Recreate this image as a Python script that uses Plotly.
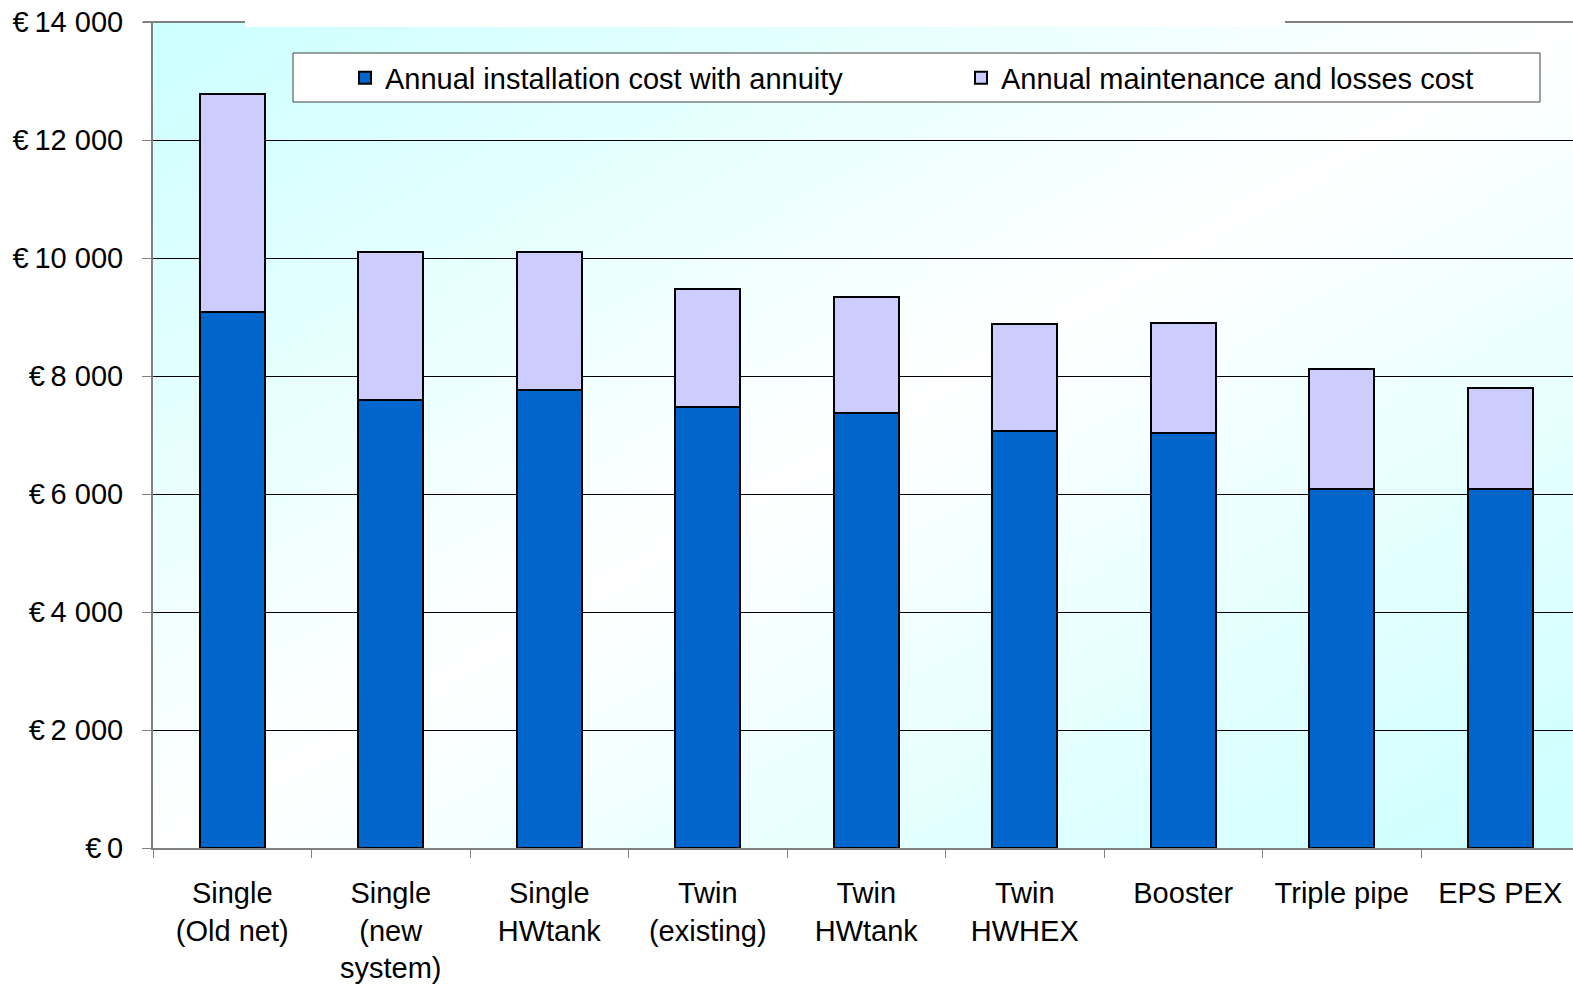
import base64
import plotly.graph_objects as go

categories = ["Single<br>(Old net)", "Single<br>(new<br>system)", "Single<br>HWtank",
              "Twin<br>(existing)", "Twin<br>HWtank", "Twin<br>HWHEX", "Booster",
              "Triple pipe", "EPS PEX"]
installation = [9080, 7590, 7760, 7480, 7370, 7070, 7040, 6090, 6090]
maintenance = [3700, 2510, 2340, 2000, 1970, 1810, 1850, 2030, 1710]
tick_vals = [0, 2000, 4000, 6000, 8000, 10000, 12000, 14000]
tick_text = ["€\u20090", "€\u20092 000", "€\u20094 000", "€\u20096 000", "€\u20098 000",
             "€\u200910 000", "€\u200912 000", "€\u200914 000"]

FONT = "Arial, Liberation Sans, sans-serif"
FS = 29
W, H = 1573, 984
ML, MR, MT, MB = 153, 0, 22, 136
PW = W - ML - MR
PH = H - MT - MB
CAT_W = 158.5


def px_x(p):
    return (p - ML) / PW


def px_y(p):
    return (H - MB - p) / PH


fig = go.Figure()
fig.add_trace(go.Bar(x=categories, y=installation, name="Annual installation cost with annuity",
                     marker=dict(color="#0066CC", line=dict(color="#000000", width=2)),
                     width=0.41))
fig.add_trace(go.Bar(x=categories, y=maintenance, name="Annual maintenance and losses cost",
                     marker=dict(color="#CCCCFF", line=dict(color="#000000", width=2)),
                     width=0.41))

svg = ('<svg xmlns="http://www.w3.org/2000/svg" width="100" height="100" viewBox="0 0 100 100" '
       'preserveAspectRatio="none"><defs><linearGradient id="g" x1="0" y1="0" x2="1" y2="1">'
       '<stop offset="0" stop-color="#CCFFFF"/><stop offset="0.5" stop-color="#FFFFFF"/>'
       '<stop offset="1" stop-color="#CCFFFF"/></linearGradient></defs>'
       '<rect width="100" height="100" fill="url(#g)"/></svg>')
src = "data:image/svg+xml;base64," + base64.b64encode(svg.encode()).decode()

fig.update_layout(
    width=W, height=H,
    margin=dict(l=ML, r=MR, t=MT, b=MB, pad=0, autoexpand=False),
    barmode="stack",
    paper_bgcolor="white",
    plot_bgcolor="rgba(0,0,0,0)",
    font=dict(family=FONT, size=FS, color="black"),
    showlegend=True,
    legend=dict(orientation="h", x=px_x(345), xanchor="left", y=px_y(78), yanchor="middle",
                bgcolor="rgba(0,0,0,0)", borderwidth=0, entrywidth=571, entrywidthmode="pixels",
                font=dict(family=FONT, size=FS, color="black"), traceorder="normal"),
    images=[dict(source=src, xref="paper", yref="paper", x=0, y=1, sizex=1, sizey=1,
                 sizing="stretch", layer="below", xanchor="left", yanchor="top")],
    shapes=[
        dict(type="line", xref="paper", yref="paper", x0=px_x(143), x1=1.0,
             y0=1.0, y1=1.0, line=dict(color="#808080", width=2), layer="above"),
        dict(type="rect", xref="paper", yref="paper", x0=px_x(293), x1=px_x(1540),
             y0=px_y(102), y1=px_y(53), fillcolor="white", line=dict(color="#404040", width=1),
             layer="above"),
        dict(type="rect", xref="paper", yref="paper", x0=px_x(245), x1=px_x(1285),
             y0=px_y(27), y1=1.05, fillcolor="white", line=dict(width=0), layer="above"),
    ],
)

fig.update_xaxes(
    type="category",
    automargin=False,
    range=[-0.5, -0.5 + PW / CAT_W],
    tickson="boundaries",
    ticks="outside", ticklen=8, tickcolor="#808080", tickwidth=1,
    showline=True, linecolor="#808080", linewidth=2,
    showgrid=False,
    tickfont=dict(family=FONT, size=FS, color="black"),
    ticklabelstandoff=18,
)
fig.update_yaxes(
    automargin=False,
    range=[0, 14000],
    tickvals=tick_vals, ticktext=tick_text,
    ticks="outside", ticklen=9, tickcolor="#808080", tickwidth=1,
    showline=True, linecolor="#808080", linewidth=2,
    showgrid=True, gridcolor="#000000", gridwidth=1,
    zeroline=False,
    tickfont=dict(family=FONT, size=FS, color="black"),
    ticklabelstandoff=13,
)

fig.write_html("out.html")
